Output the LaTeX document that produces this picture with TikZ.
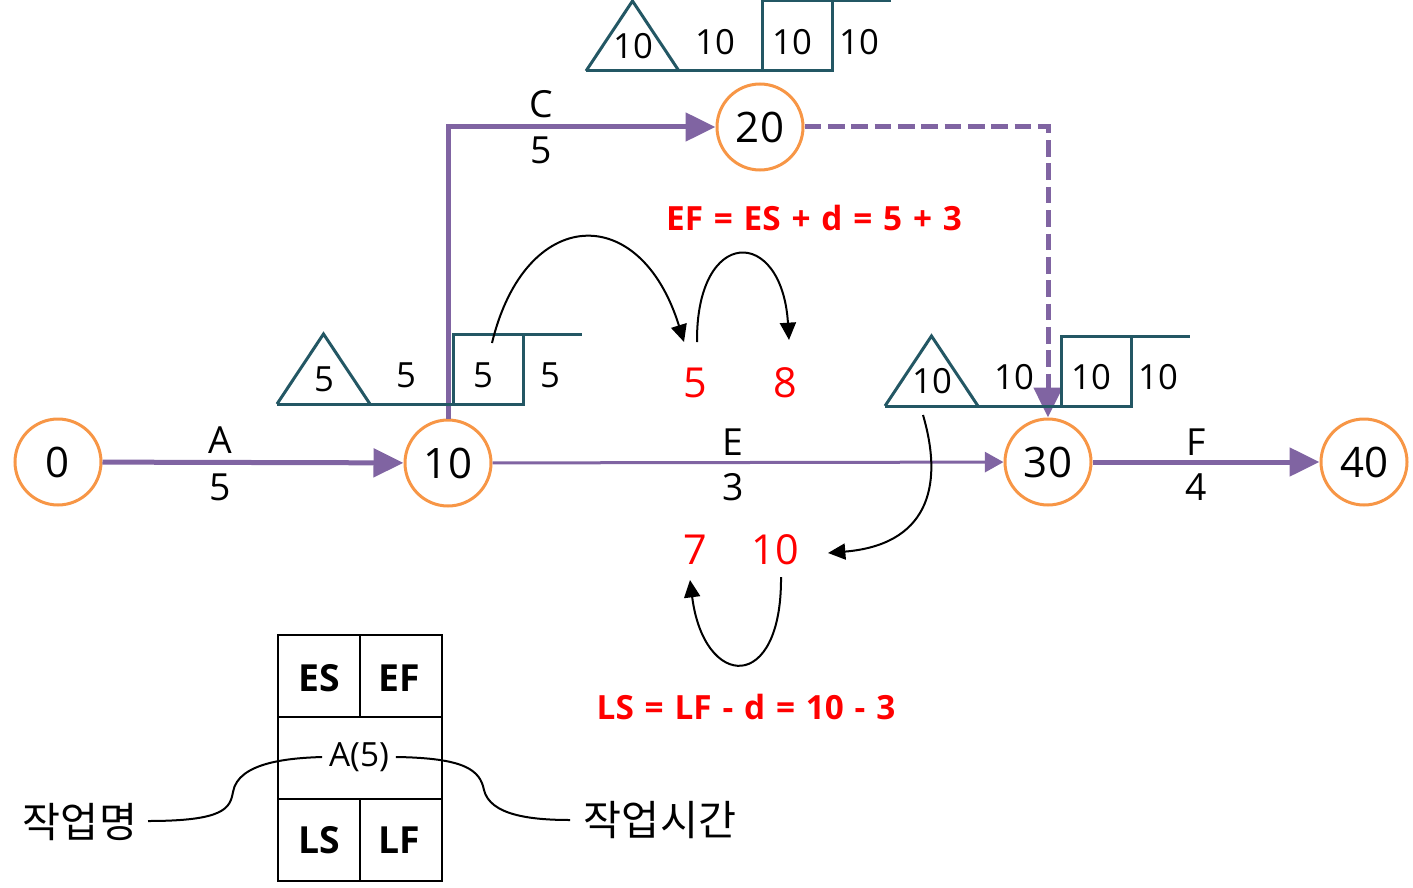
\documentclass[tikz,border=0pt]{standalone}
\usepackage{fontspec}
\setmainfont{Open Sans}
\newfontfamily\kor{Noto Sans CJK KR}
\newfontfamily\formfont[WordSpace=1.25]{Open Sans}
\usetikzlibrary{arrows.meta}
\definecolor{pur}{RGB}{128,100,162}
\definecolor{orn}{RGB}{247,150,70}
\definecolor{tealc}{RGB}{35,87,100}
\definecolor{redc}{RGB}{255,0,0}
\newcommand\fsz[1]{\fontsize{#1}{#1}\selectfont}
\tikzset{
  ev/.style={circle, draw=orn, line width=2.25pt, minimum size=64.5pt, inner sep=0pt, font=\fsz{31.5}},
  lbl/.style={inner sep=0pt, font=\fsz{28}},
  tnum/.style={inner sep=0pt, font=\fsz{26}},
  rnum/.style={inner sep=0pt, text=redc, font=\fsz{31}},
  formula/.style={inner sep=0pt, text=redc, font=\formfont\bfseries\fsz{25}},
  thickarr/.style={draw=pur, line width=3.75pt, -{Triangle[length=22.5pt,width=21pt]}},
  thinarr/.style={draw=pur, line width=2.25pt, -{Triangle[length=14pt,width=15pt]}},
  dasharr/.style={draw=pur, line width=3.75pt, dash pattern=on 12.5pt off 5pt, -{Triangle[length=22.5pt,width=21pt]}},
  tline/.style={draw=tealc, line width=2.25pt},
  curvarr/.style={draw=black, line width=1.5pt, -{Triangle[length=13pt,width=12pt]}},
  legend/.style={draw=black, line width=1.5pt},
  legtxt/.style={inner sep=0pt, font=\bfseries\fsz{28}},
  kortxt/.style={inner sep=0pt, font=\kor\fsz{31}},
  pics/ebox/.style n args={4}{code={
    \draw[tline] (0,0) -- (46.5,-70) -- (93,0);
    \draw[tline] (0,0) -- (246,0) -- (246,-70) -- (176,-70) -- (176,0);
    \draw[tline] (176,-70) -- (305,-70);
    \node[tnum] (-t1) at (47,-25) {#1};
    \node[tnum] (-t2) at (129,-29) {#2};
    \node[tnum] (-t3) at (206,-29) {#3};
    \node[tnum] (-t4) at (273,-29) {#4};
  }}
}
\begin{document}
\begin{tikzpicture}[x=0.75pt,y=-0.75pt]
\useasboundingbox (0,0) rectangle (1413,888);

% events
\node[ev] (n0) at (58,462) {0};
\node[ev] (n10) at (448,463) {10};
\node[ev] (n20) at (760,127) {20};
\node[ev] (n30) at (1048,462) {30};
\node[ev] (n40) at (1364,462) {40};

% activity arrows
\draw[thickarr] (n0) -- (n10);
\draw[thickarr] (n10) |- (n20);
\draw[thinarr] (n10) -- (n30);
\draw[dasharr] (n20) -| (n30);
\draw[thickarr] (n30) -- (n40);

% activity labels
\node[lbl] (la) at (220,440) {A};
\node[lbl] (da) at (220,487) {5};
\node[lbl] (lc) at (541,104) {C};
\node[lbl] (dc) at (541,150) {5};
\node[lbl] (le) at (733,442) {E};
\node[lbl] (de) at (733,487) {3};
\node[lbl] (lf) at (1196,442) {F};
\node[lbl] (df) at (1196,487) {4};

% time boxes
\pic (g1) at (277,404) {ebox={5}{5}{5}{5}};
\pic (g2) at (586,71) {ebox={10}{10}{10}{10}};
\pic (g3) at (885,406) {ebox={10}{10}{10}{10}};

% red values
\node[rnum] (es) at (695,383) {5};
\node[rnum] (ef) at (785,383) {8};
\node[rnum] (ls) at (695,550) {7};
\node[rnum] (lfv) at (775,550) {10};
\node[formula] (f1) at (814,218) {EF = ES + d = 5 + 3};
\node[formula] (f2) at (746,707) {LS = LF - d = 10 - 3};

% explanatory arrows
\coordinate (s1) at (492,343);
\coordinate (e1) at (684,342);
\coordinate (s2) at (697,342);
\coordinate (e2) at (789,340);
\coordinate (s3) at (923,415);
\coordinate (e3) at (828,553);
\coordinate (s4) at (781,577);
\coordinate (e4) at (690,580);
\draw[curvarr] (s1) .. controls (525,206) and (640,200) .. (e1);
\draw[curvarr] (s2) .. controls (696,226) and (782,226) .. (e2);
\draw[curvarr] (s3) .. controls (945,490) and (925,545) .. (e3);
\draw[curvarr] (s4) .. controls (782,694) and (704,690) .. (e4);

% legend
\draw[legend] (278,635) rectangle (442,881);
\draw[legend] (278,717) -- (442,717);
\draw[legend] (278,799) -- (442,799);
\draw[legend] (360,635) -- (360,717);
\draw[legend] (360,799) -- (360,881);
\node[legtxt] (tes) at (319,678) {ES};
\node[legtxt] (tef) at (399,678) {EF};
\node[inner sep=0pt, font=\fsz{25}] (ta5) at (359,757) {A(5)};
\node[legtxt] (tls) at (319,840) {LS};
\node[legtxt] (tlf) at (399,840) {LF};
\node[kortxt] (kname) at (80,822) {작업명};
\node[kortxt] (ktime) at (660,820) {작업시간};
\draw[line width=1.5pt] (148,821) .. controls (225,821) and (230,808) .. (233,792)
   .. controls (238,762) and (290,758) .. ([xshift=-5pt]ta5.west);
\draw[line width=1.5pt] ([xshift=5pt]ta5.east) .. controls (465,758) and (480,770) .. (484,790)
   .. controls (490,815) and (530,820) .. (570,820);
\end{tikzpicture}
\end{document}
